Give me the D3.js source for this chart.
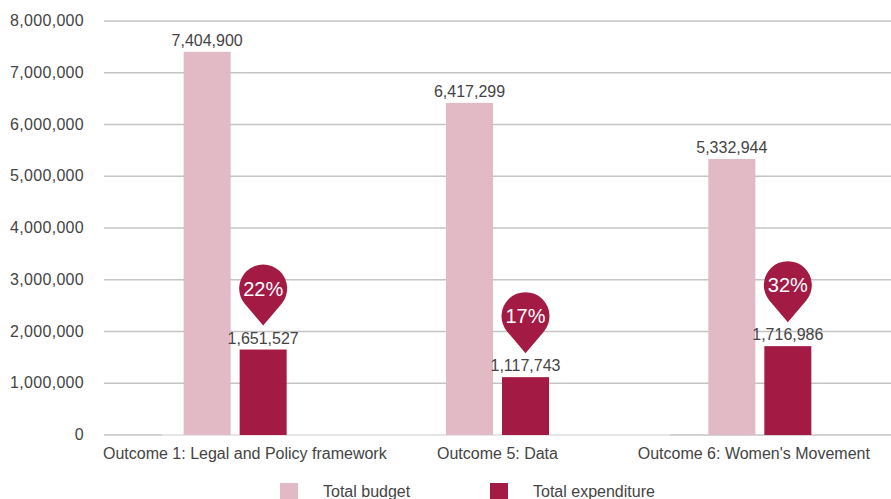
<!DOCTYPE html>
<html>
<head>
<meta charset="utf-8">
<script src="https://cdn.jsdelivr.net/npm/d3@7"></script>
<style>
  body { margin: 0; background: #fff; }
  text { font-family: "Liberation Sans", Arial, sans-serif; }
</style>
</head>
<body>
<div id="chart"></div>
<script>
// Data
const categories = ['Outcome 1: Legal and Policy framework', 'Outcome 5: Data', "Outcome 6: Women's Movement"]
const budget = [7404900, 6417299, 5332944]
const expenditure = [1651527, 1117743, 1716986]
const yTicks = [0, 1000000, 2000000, 3000000, 4000000, 5000000, 6000000, 7000000, 8000000]
const seriesNames = ['Total budget', 'Total expenditure']

const width = 891
const height = 499
const margin = {left: 104, right: 0, top: 21, bottom: 64}

const colBudget = '#e2bac5'
const colExp = '#a31b45'
const fontSize = '16px'

const svg = d3.select('#chart')
  .append('svg')
  .attr('width', width)
  .attr('height', height)

const xScale = d3.scaleBand().domain(categories).range([margin.left, width - margin.right])
const x1 = d3.scaleBand().domain(['budget', 'expenditure']).range([-51.5, 51.5]).paddingInner(9 / 56)
const yScale = d3.scaleLinear().domain([0, 8000000]).range([height - margin.bottom, margin.top])

const fmt = d3.format(',')

// Gridlines
svg.append('g')
  .selectAll('line')
  .data(yTicks)
  .join('line')
  .attr('x1', margin.left)
  .attr('x2', width - margin.right)
  .attr('y1', d => yScale(d))
  .attr('y2', d => yScale(d))
  .style('stroke', '#c4c4c4')
  .style('stroke-width', 1.5)

// Lighter baseline segment
const bx0 = xScale(categories[0]) + xScale.bandwidth() / 2 + x1('budget') - 22
const bx1 = xScale(categories[2]) + xScale.bandwidth() / 2 + x1('budget') - 38
svg.append('line')
  .attr('x1', bx0).attr('x2', bx1)
  .attr('y1', yScale(0)).attr('y2', yScale(0))
  .style('stroke', '#ececec')
  .style('stroke-width', 1.6)

// Y labels
svg.append('g')
  .selectAll('text')
  .data(yTicks)
  .join('text')
  .attr('x', 84)
  .attr('y', d => yScale(d) + 5)
  .attr('text-anchor', 'end')
  .style('font-size', fontSize)
  .style('letter-spacing', '0.3px')
  .style('fill', '#444')
  .text(d => fmt(d))

// Bars
const rows = categories.map((c, i) => ({cat: c, budget: budget[i], expenditure: expenditure[i]}))
const groups = svg.append('g')
  .selectAll('g')
  .data(rows)
  .join('g')
  .attr('transform', d => `translate(${xScale(d.cat) + xScale.bandwidth() / 2},0)`)

groups.append('rect')
  .attr('x', x1('budget'))
  .attr('y', d => yScale(d.budget))
  .attr('width', x1.bandwidth())
  .attr('height', d => yScale(0) - yScale(d.budget))
  .style('fill', colBudget)

groups.append('rect')
  .attr('x', x1('expenditure'))
  .attr('y', d => yScale(d.expenditure))
  .attr('width', x1.bandwidth())
  .attr('height', d => yScale(0) - yScale(d.expenditure))
  .style('fill', colExp)

// Value labels
groups.append('text')
  .attr('x', x1('budget') + x1.bandwidth() / 2)
  .attr('y', d => yScale(d.budget) - 6)
  .attr('text-anchor', 'middle')
  .style('font-size', fontSize)
  .style('fill', '#444')
  .text(d => fmt(d.budget))

groups.append('text')
  .attr('x', x1('expenditure') + x1.bandwidth() / 2)
  .attr('y', d => yScale(d.expenditure) - 6)
  .attr('text-anchor', 'middle')
  .style('font-size', fontSize)
  .style('fill', '#444')
  .text(d => fmt(d.expenditure))

// Percentage pins
const pinR = 24
const pinD = 37
const th = Math.acos(pinR / pinD)
const px = pinR * Math.sin(th)
const py = -pinD + pinR * Math.cos(th)
const pinPath = `M0,0 L${-px},${py} A${pinR},${pinR} 0 1 1 ${px},${py} Z`

const pins = groups.append('g')
  .attr('transform', d => `translate(${x1('expenditure') + x1.bandwidth() / 2},${yScale(d.expenditure) - 24})`)

pins.append('path')
  .attr('d', pinPath)
  .style('fill', colExp)

pins.append('text')
  .attr('x', 0)
  .attr('y', -pinD + 7)
  .attr('text-anchor', 'middle')
  .style('font-size', '20px')
  .style('fill', '#fff')
  .text(d => Math.round(d.expenditure / d.budget * 100) + '%')

// Category labels (first one kept inside the plot's left edge)
svg.append('g')
  .selectAll('text')
  .data(categories)
  .join('text')
  .attr('x', (d, i) => i === 0 ? margin.left - 1 : xScale(d) + xScale.bandwidth() / 2 - (i === 2 ? 6 : 0))
  .attr('y', 459)
  .attr('text-anchor', (d, i) => i === 0 ? 'start' : 'middle')
  .style('font-size', fontSize)
  .style('fill', '#444')
  .text(d => d)

// Legend
const legend = svg.append('g')
  .selectAll('g')
  .data(seriesNames)
  .join('g')
  .attr('transform', (d, i) => `translate(${280 + i * 210},483)`)

legend.append('rect')
  .attr('width', 18)
  .attr('height', 18)
  .style('fill', (d, i) => i === 0 ? colBudget : colExp)

legend.append('text')
  .attr('x', 43)
  .attr('y', 14)
  .style('font-size', fontSize)
  .style('fill', '#444')
  .text(d => d)
</script>
</body>
</html>
